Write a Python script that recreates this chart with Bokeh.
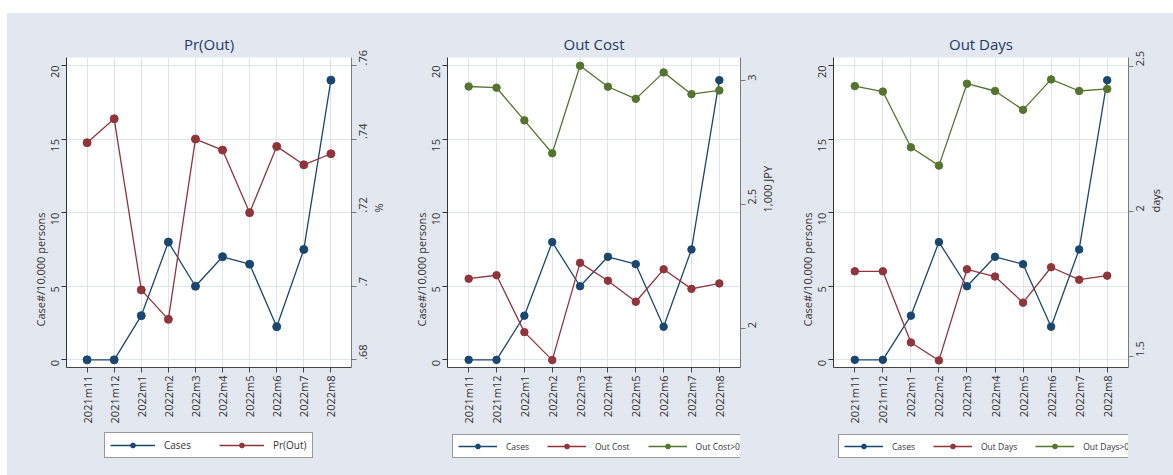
import math

from bokeh.plotting import figure
from bokeh.models import (FactorRange, Range1d, LinearAxis, FixedTicker, Legend,
                          LegendItem, CustomJSTickFormatter)
from bokeh.layouts import row, column
from bokeh.embed import file_html
from bokeh.resources import INLINE

# Monthly series
months = ["2021m11", "2021m12", "2022m1", "2022m2", "2022m3",
          "2022m4", "2022m5", "2022m6", "2022m7", "2022m8"]
cases = [0.0, 0.0, 3.0, 8.0, 5.0, 7.0, 6.5, 2.25, 7.5, 19.0]
pr_out = [0.739, 0.7455, 0.699, 0.691, 0.740, 0.737, 0.720, 0.738, 0.733, 0.736]
out_cost = [2.200, 2.214, 1.984, 1.871, 2.264, 2.192, 2.107, 2.238, 2.159, 2.181]
out_cost_pos = [2.977, 2.972, 2.840, 2.707, 3.061, 2.976, 2.927, 3.034, 2.946, 2.961]
out_days = [1.794, 1.794, 1.549, 1.487, 1.801, 1.776, 1.686, 1.808, 1.765, 1.779]
out_days_pos = [2.432, 2.413, 2.221, 2.158, 2.440, 2.415, 2.350, 2.455, 2.415, 2.422]

left_ticks = [0, 5, 10, 15, 20]
pr_ticks = [0.68, 0.70, 0.72, 0.74, 0.76]
cost_ticks = [2.0, 2.5, 3.0]
days_ticks = [1.5, 2.0, 2.5]

FONT = "Open Sans"
BG = "#e2e7f0"
GRID = "#dde4ee"
NAVY = "#1a476f"
MAROON = "#90353b"
GREEN = "#55752f"
TEXT = "#333333"
UP = math.pi / 2          # text reading bottom-to-top
NAN = float("nan")

LEFT_RANGE = (-0.52, 20.54)
PLOT_H = 417
LEG_H = 45

# stata-style labels: drop the leading zero (.72) and trailing zeros
strip_fmt = CustomJSTickFormatter(code="""
    let s = String(+tick.toFixed(3));
    return s.replace(/^0\\./, '.');
""")


def style_axis(ax, line_color, label_size="11px"):
    ax.major_label_orientation = UP
    ax.major_label_text_font = FONT
    ax.major_label_text_font_size = "11px"
    ax.major_label_text_color = TEXT
    ax.axis_label_text_font = FONT
    ax.axis_label_text_font_size = label_size
    ax.axis_label_text_font_style = "normal"
    ax.axis_label_text_color = TEXT
    ax.axis_label_standoff = 4
    ax.axis_line_color = line_color
    ax.major_tick_line_color = line_color
    ax.major_tick_in = 0
    ax.major_tick_out = 5
    ax.minor_tick_line_color = None
    if "axis_label_orientation" in ax.properties():
        ax.axis_label_orientation = UP


def make_panel(title, width, left, frame_w, series, sec_map, sec_ticks, right_label,
               leg_font, glyph_w, leg_spacing, leg_x, marker):
    right = width - left - frame_w
    a, b = sec_map
    p = figure(width=width, height=PLOT_H,
               x_range=FactorRange(*months, range_padding=0.052),
               y_range=Range1d(*LEFT_RANGE),
               output_backend="svg", toolbar_location=None,
               min_border_left=left, min_border_right=right,
               min_border_top=44, min_border_bottom=PLOT_H - 44 - 310,
               background_fill_color="white", border_fill_color=BG,
               outline_line_color=None)
    p.extra_y_ranges = {"sec": Range1d(a + b * LEFT_RANGE[0], a + b * LEFT_RANGE[1])}

    p.title.text = title
    p.title.align = "center"
    p.title.text_font = FONT
    p.title.text_font_size = "15px"
    p.title.text_font_style = "normal"
    p.title.text_color = "#1f3a68"
    if "standoff" in p.title.properties():
        p.title.standoff = 7

    p.xgrid.grid_line_color = GRID
    p.ygrid.grid_line_color = GRID

    xa = p.xaxis[0]
    style_axis(xa, "#444444")
    xa.major_label_standoff = 3

    ya = p.yaxis[0]
    ya.ticker = FixedTicker(ticks=left_ticks)
    ya.axis_label = "Case#/10,000 persons"
    style_axis(ya, "#333333")
    ya.major_label_standoff = 6

    ra = LinearAxis(y_range_name="sec", ticker=FixedTicker(ticks=sec_ticks),
                    formatter=strip_fmt, axis_label=right_label)
    style_axis(ra, "#7a7a7a")
    ra.major_label_standoff = 7
    p.add_layout(ra, "right")

    p.line(months, cases, line_color=NAVY, line_width=1.3)
    p.scatter(months, cases, size=marker, fill_color=NAVY, line_color=NAVY)
    for label, vals, color in series:
        p.line(months, vals, line_color=color, line_width=1.3, y_range_name="sec")
        p.scatter(months, vals, size=marker, fill_color=color, line_color=color,
                  y_range_name="sec")

    # legend strip under the plot (its frame lines up with the plot frame)
    lf = figure(width=width, height=LEG_H, x_range=Range1d(0, 1), y_range=Range1d(0, 1),
                x_axis_type=None, y_axis_type=None,
                output_backend="svg", toolbar_location=None,
                min_border_left=0, min_border_right=0, min_border_top=0,
                min_border_bottom=0, background_fill_color=BG, border_fill_color=BG,
                outline_line_color=None)
    lf.xgrid.visible = False
    lf.ygrid.visible = False
    items = []
    for label, color in [("Cases", NAVY)] + [(s[0], s[2]) for s in series]:
        ll = lf.line(x=[NAN], y=[NAN], line_color=color, line_width=1.3)
        ss = lf.scatter(x=[NAN], y=[NAN], size=marker - 1, fill_color=color,
                        line_color=color)
        items.append(LegendItem(label=label, renderers=[ll, ss]))
    leg = Legend(items=items, orientation="horizontal", location=(leg_x, 17),
                 label_text_font=FONT, label_text_font_size=leg_font,
                 label_text_color=TEXT, glyph_width=glyph_w, glyph_height=12,
                 label_standoff=9, spacing=leg_spacing, padding=5, margin=0,
                 border_line_color="#333333", border_line_width=1,
                 background_fill_color="white", background_fill_alpha=1.0)
    lf.add_layout(leg)
    return column(p, lf)


c1 = make_panel("Pr(Out)", 389, 59, 290,
                [("Pr(Out)", pr_out, MAROON)],
                (0.68, 0.004), pr_ticks, "%", "10px", 45, 28, 38, 8)
c2 = make_panel("Out Cost", 389, 51, 300,
                [("Out Cost", out_cost, MAROON), ("Out Cost>0", out_cost_pos, GREEN)],
                (1.872, 0.0595), cost_ticks, "1,000 JPY", "8.5px", 39, 18, 5, 7.5)
c3 = make_panel("Out Days", 388, 48, 300,
                [("Out Days", out_days, MAROON), ("Out Days>0", out_days_pos, GREEN)],
                (1.489, 0.0507), days_ticks, "days", "8.5px", 39, 18, 5, 7.5)

layout = row(c1, c2, c3, margin=(13, 0, 0, 7), styles={"background-color": BG})

with open("out.html", "w") as f:
    f.write(file_html(layout, INLINE))
